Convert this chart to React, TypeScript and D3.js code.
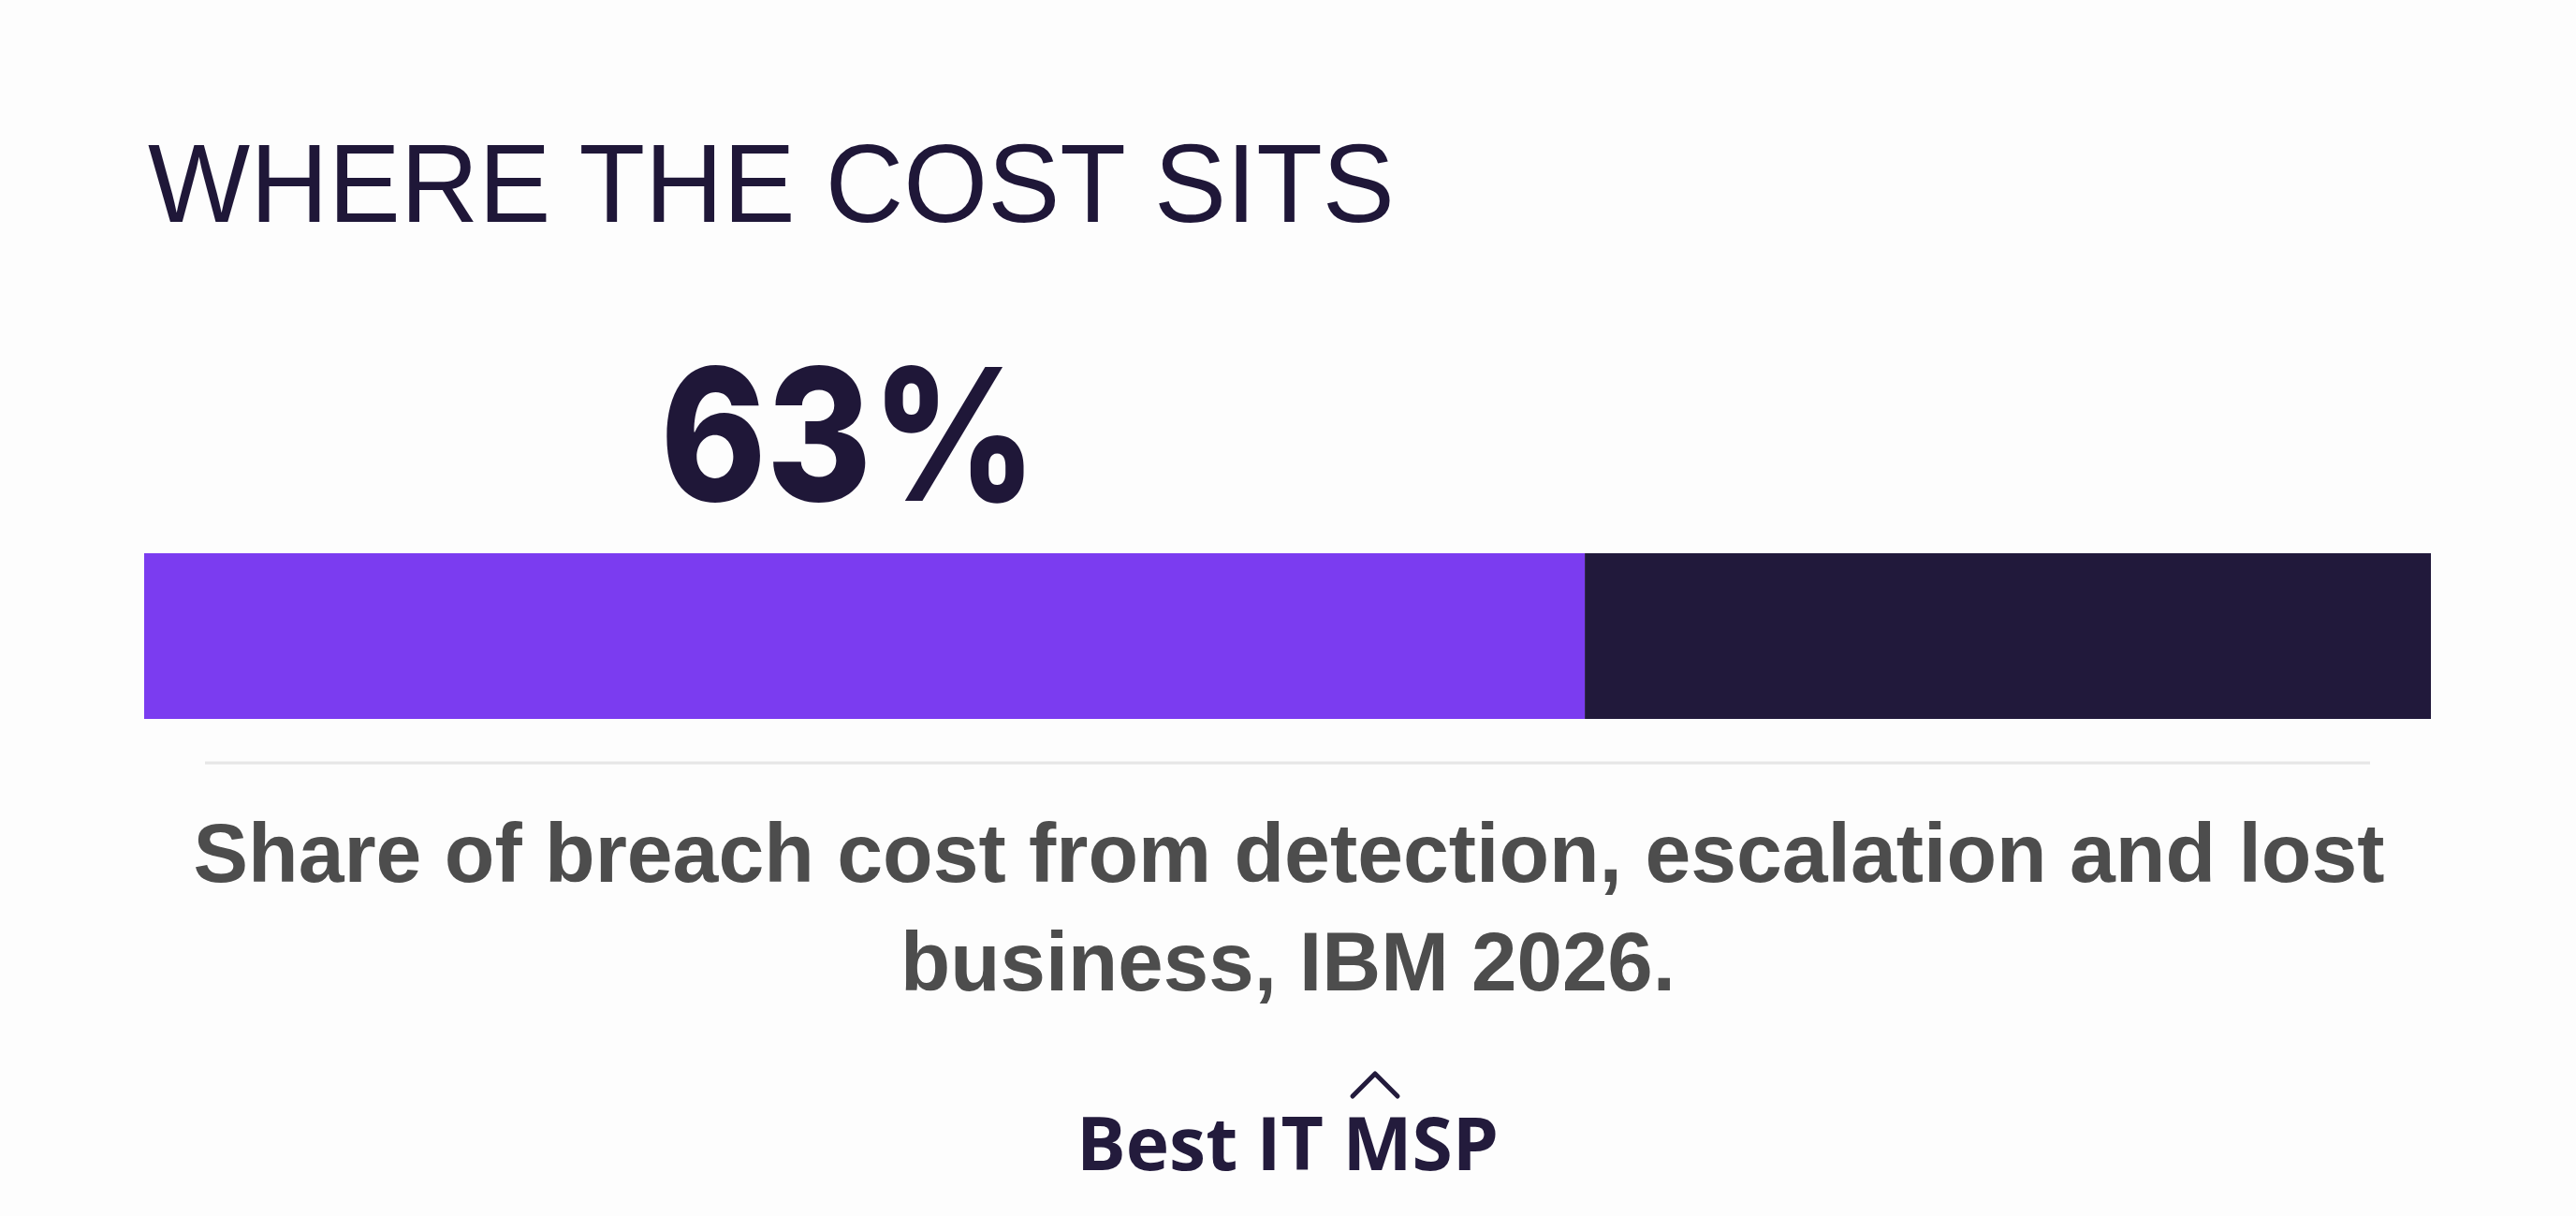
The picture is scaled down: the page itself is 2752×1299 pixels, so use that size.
import React, { useEffect } from 'react';
import * as d3 from 'd3';

// chart data
const segmentLabels = ['Detection, escalation and lost business', 'Other'];
const segmentValues = [63, 37];
const segmentColors = ['#7b3cf0', '#21193b'];
const headline = 'WHERE THE COST SITS';
const captionLines = [
  'Share of breach cost from detection, escalation and lost',
  'business, IBM 2026.',
];
const brand = 'Best IT MSP';

const W = 2752;
const H = 1299;

export default function App() {
  useEffect(() => {
    document.body.style.margin = '0';
    document.body.style.background = '#fdfdfd';
  }, []);

  const x = d3.scaleLinear().domain([0, d3.sum(segmentValues)]).range([154, 2597]);
  const barTop = 591;
  const barH = 177;

  const starts = segmentValues.map((_, i) => d3.sum(segmentValues.slice(0, i)));
  const mainShare = segmentValues[0];

  return (
    <svg width={W} height={H} viewBox={`0 0 ${W} ${H}`} style={{ display: 'block', background: '#fdfdfd' }}>
      {/* title */}
      <text
        x={158}
        y={237}
        fontFamily="'Liberation Sans', Arial, sans-serif"
        fontSize={118}
        fontWeight={400}
        fill="#1f1738"
        textLength={1332}
        lengthAdjust="spacingAndGlyphs"
      >
        {headline}
      </text>

      {/* big number above the highlighted segment */}
      <text
        x={x(mainShare / 2) - 17}
        y={535}
        textAnchor="middle"
        fontFamily="Inter, 'Noto Sans', sans-serif"
        fontSize={196}
        fontWeight={800}
        fill="#1f1738"
        textLength={402}
        lengthAdjust="spacingAndGlyphs"
      >
        {`${mainShare}%`}
      </text>

      {/* stacked bar */}
      {segmentValues.map((v, i) => (
        <rect
          key={segmentLabels[i]}
          x={x(starts[i])}
          y={barTop}
          width={x(starts[i] + v) - x(starts[i])}
          height={barH}
          fill={segmentColors[i]}
        >
          <title>{`${segmentLabels[i]}: ${v}%`}</title>
        </rect>
      ))}

      {/* separator */}
      <line x1={219} x2={2532} y1={815} y2={815} stroke="#e6e6e6" strokeWidth={3} />

      {/* caption */}
      <text
        x={1377}
        y={942}
        textAnchor="middle"
        fontFamily="'Liberation Sans', Arial, sans-serif"
        fontSize={89}
        fontWeight={700}
        fill="#4d4d4d"
        textLength={2341}
        lengthAdjust="spacingAndGlyphs"
      >
        {captionLines[0]}
      </text>
      <text
        x={1376}
        y={1058}
        textAnchor="middle"
        fontFamily="'Liberation Sans', Arial, sans-serif"
        fontSize={89}
        fontWeight={700}
        fill="#4d4d4d"
        textLength={828}
        lengthAdjust="spacingAndGlyphs"
      >
        {captionLines[1]}
      </text>

      {/* brand mark */}
      <path
        d="M1445,1171 L1469,1147 L1493,1171"
        fill="none"
        stroke="#231b3c"
        strokeWidth={5}
        strokeLinecap="round"
        strokeLinejoin="round"
      />
      <text
        x={1150}
        y={1250}
        fontFamily="'Open Sans', 'Noto Sans', sans-serif"
        fontSize={78}
        fontWeight={700}
        fill="#231b3c"
        textLength={451}
        lengthAdjust="spacingAndGlyphs"
      >
        {brand}
      </text>
    </svg>
  );
}
